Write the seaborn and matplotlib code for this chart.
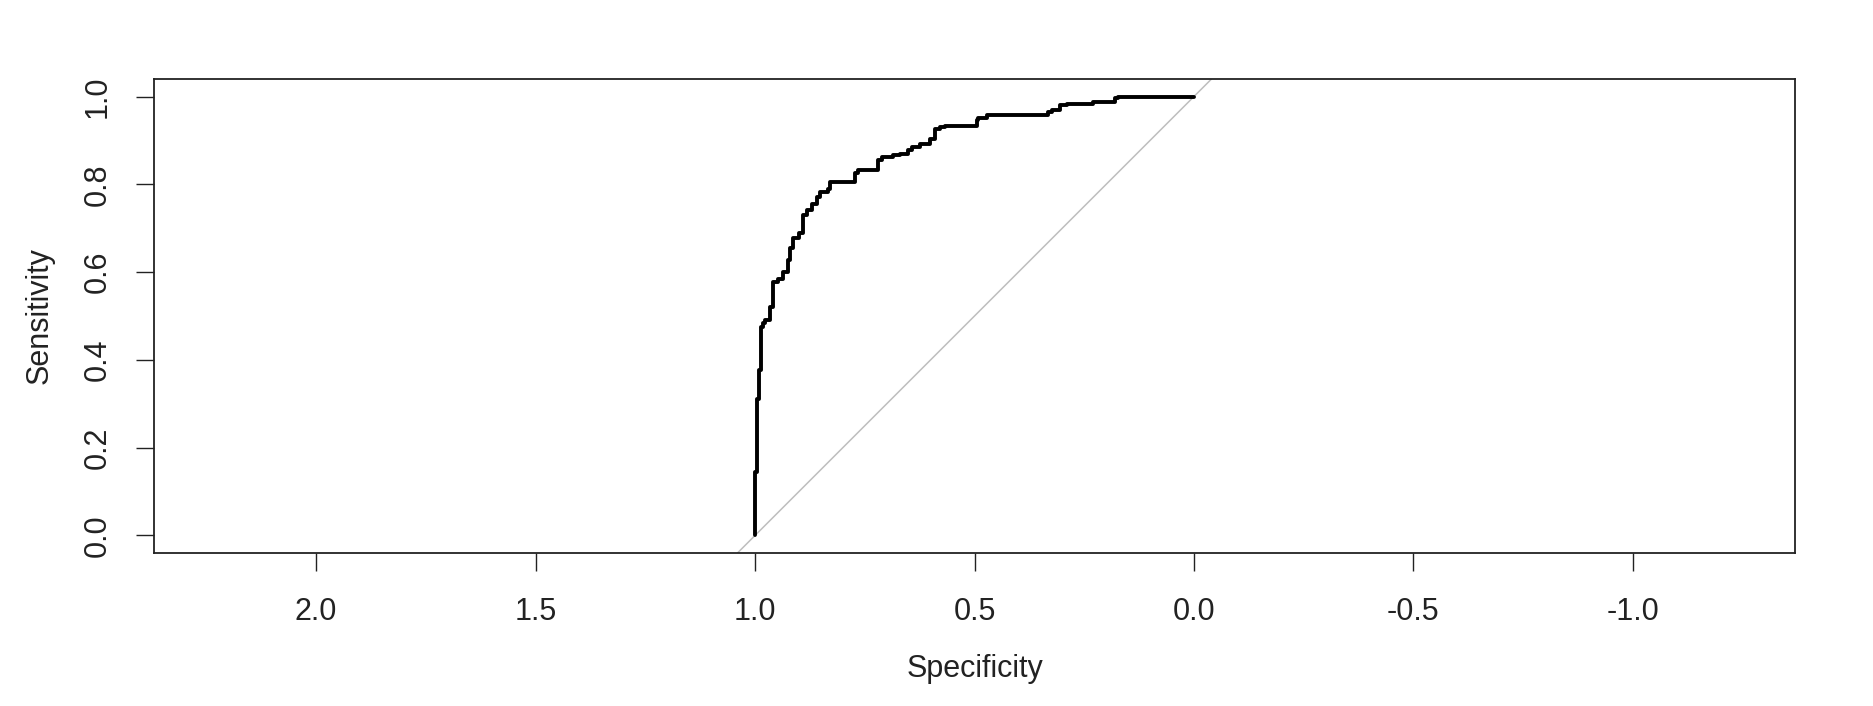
import matplotlib
matplotlib.use("Agg")
import matplotlib.pyplot as plt
import seaborn as sns
import pandas as pd

# ROC curve points (specificity, sensitivity)
specificity = [1.000, 1.000, 0.996, 0.996, 0.990, 0.990, 0.986, 0.986, 0.981, 0.977,
               0.967, 0.966, 0.960, 0.958, 0.947, 0.936, 0.924, 0.920, 0.913, 0.901,
               0.890, 0.882, 0.871, 0.859, 0.852, 0.833, 0.829, 0.806, 0.772, 0.765,
               0.753, 0.719, 0.711, 0.685, 0.670, 0.651, 0.643, 0.624, 0.601, 0.590,
               0.579, 0.567, 0.544, 0.495, 0.491, 0.472, 0.469, 0.332, 0.324, 0.305,
               0.290, 0.229, 0.180, 0.172, 0.146, 0.000]
sensitivity = [0.000, 0.145, 0.145, 0.312, 0.312, 0.376, 0.376, 0.452, 0.475, 0.485,
               0.490, 0.505, 0.520, 0.539, 0.578, 0.585, 0.601, 0.627, 0.654, 0.677,
               0.688, 0.730, 0.741, 0.756, 0.771, 0.783, 0.790, 0.806, 0.806, 0.825,
               0.832, 0.832, 0.855, 0.863, 0.866, 0.868, 0.878, 0.885, 0.893, 0.904,
               0.927, 0.931, 0.933, 0.933, 0.946, 0.951, 0.959, 0.959, 0.965, 0.969,
               0.980, 0.984, 0.988, 0.997, 1.000, 1.000]
x_ticks = [2.0, 1.5, 1.0, 0.5, 0.0, -0.5, -1.0]
x_tick_labels = ["2.0", "1.5", "1.0", "0.5", "0.0", "-0.5", "-1.0"]
y_ticks = [0.0, 0.2, 0.4, 0.6, 0.8, 1.0]
y_tick_labels = ["0.0", "0.2", "0.4", "0.6", "0.8", "1.0"]

sns.set_style("white")
plt.rcParams['font.family'] = ['Liberation Sans', 'DejaVu Sans']

W, H = 1873, 706
fig = plt.figure(figsize=(W / 100, H / 100), dpi=100)
left, right, top, bottom = 154, 1795, 79, 553
ax = fig.add_axes([left / W, 1 - bottom / H, (right - left) / W, (bottom - top) / H])

df = pd.DataFrame({"Specificity": specificity, "Sensitivity": sensitivity})

# identity line
ax.axline((1, 0), (0, 1), color="#BEBEBE", linewidth=1.1, zorder=1)
sns.lineplot(data=df, x="Specificity", y="Sensitivity", sort=False, estimator=None,
             color="black", linewidth=2.8, drawstyle="steps-pre", ax=ax, zorder=2)

ax.set_xlim(2.3695, -1.3695)
ax.set_ylim(-0.04, 1.04)

ax.set_xticks(x_ticks)
ax.set_xticklabels(x_tick_labels)
ax.set_yticks(y_ticks)
ax.set_yticklabels(y_tick_labels, rotation=90, va="center")

common = dict(direction="out", length=13, width=1.0, color="#222222",
              labelsize=22, labelcolor="#222222")
ax.tick_params(axis="x", pad=19, bottom=True, top=False, **common)
ax.tick_params(axis="y", pad=17, left=True, right=False, **common)

for s in ax.spines.values():
    s.set_visible(True)
    s.set_linewidth(1.3)
    s.set_color("#222222")

ax.set_xlabel("Specificity", fontsize=22, color="#222222")
ax.set_ylabel("Sensitivity", fontsize=22, color="#222222")
ax.xaxis.label.set_va("center")
ax.yaxis.label.set_va("center")
ax.yaxis.label.set_ha("center")
ax.xaxis.set_label_coords(0.5, (bottom - 669) / (bottom - top))
ax.yaxis.set_label_coords((40 - left) / (right - left), 0.5)

fig.savefig("out.png", dpi=100, facecolor="white")
